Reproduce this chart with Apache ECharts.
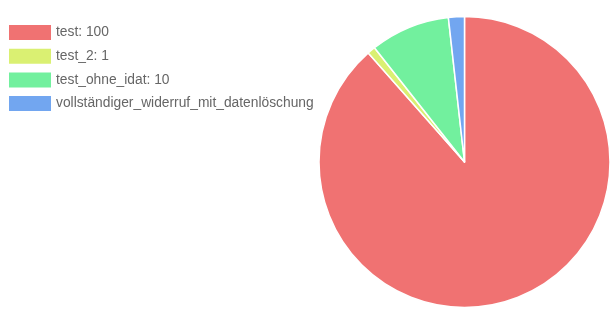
<!DOCTYPE html>
<html>
<head>
<meta charset="utf-8">
<script src="https://cdn.jsdelivr.net/npm/echarts@6/dist/echarts.min.js"></script>
<style>
  html, body { margin: 0; padding: 0; background: #fff; }
  #chart { width: 615px; height: 324px; }
</style>
</head>
<body>
<div id="chart"></div>
<script>
// Category names, their counts and slice colours
const categories = ['test', 'test_2', 'test_ohne_idat', 'vollständiger_widerruf_mit_datenlöschung'];
const values = [100, 1, 10, 2];
const colors = ['#f07272', '#daf072', '#72f09e', '#72a6f0'];

const seriesData = categories.map((name, i) => ({
  name: name,
  value: values[i],
  itemStyle: { color: colors[i] }
}));

const chart = echarts.init(document.getElementById('chart'), null, { renderer: 'canvas' });
chart.setOption({
  animation: false,
  legend: {
    orient: 'vertical',
    left: 9,
    top: 25,
    padding: 0,
    itemWidth: 42,
    itemHeight: 15,
    itemGap: 8.7,
    icon: 'rect',
    selectedMode: false,
    itemStyle: { borderWidth: 0 },
    formatter: function (name) {
      const i = categories.indexOf(name);
      return name + ': ' + values[i];
    },
    textStyle: {
      fontFamily: 'Liberation Sans, Arial, sans-serif',
      fontSize: 13.8,
      lineHeight: 15,
      color: '#666',
      width: 268,
      overflow: 'truncate',
      ellipsis: ''
    }
  },
  series: [{
    type: 'pie',
    center: [464.5, 162],
    radius: 145.5,
    startAngle: 90,
    clockwise: true,
    label: { show: false },
    labelLine: { show: false },
    emphasis: { disabled: true },
    itemStyle: { borderColor: '#fff', borderWidth: 1.5 },
    data: seriesData
  }]
});
</script>
</body>
</html>
